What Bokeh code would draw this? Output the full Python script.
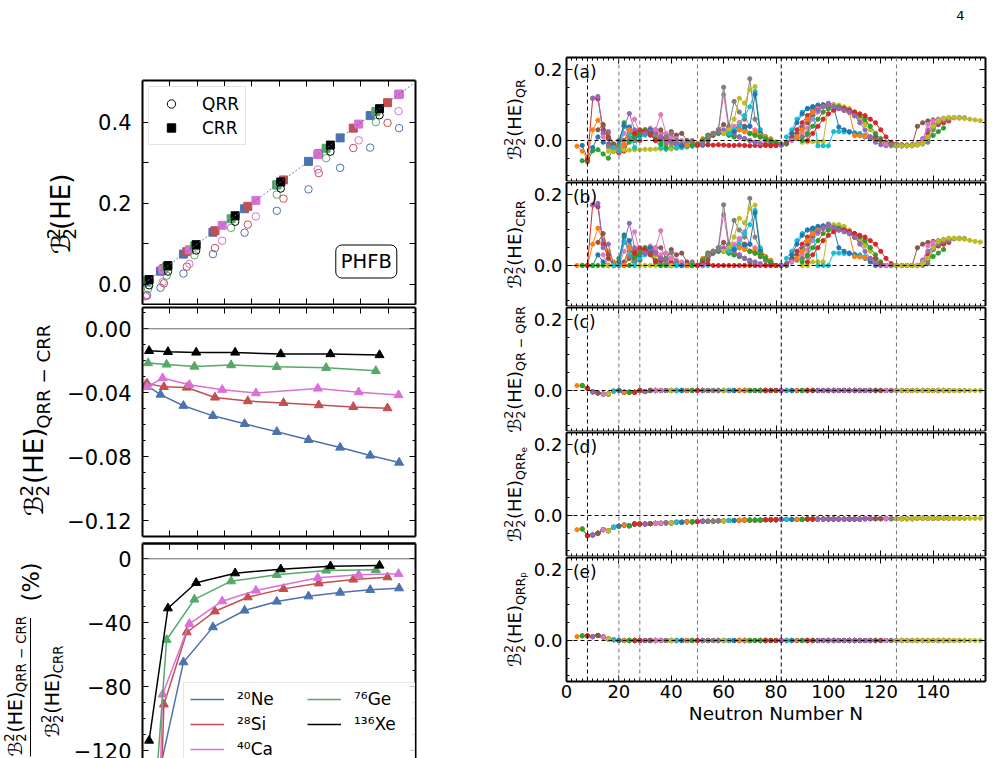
import math
from bokeh.plotting import figure
from bokeh.models import (Range1d, LinearAxis, FixedTicker, CustomJSTickFormatter,
                          Label, Span, Slope, Legend, LegendItem)
from bokeh.layouts import row, column
from bokeh.embed import file_html
from bokeh.resources import INLINE
from bokeh.core.properties import value

FONT = "DejaVu Sans"

# ---------------- left panels: CRR value (x), QRR value, QRR-CRR, relative (%) ----------------
ne_crr = [0.006, 0.033, 0.075, 0.129, 0.187, 0.246, 0.304, 0.362, 0.417, 0.470]
ne_qrr = [-0.029, -0.008, 0.027, 0.075, 0.128, 0.182, 0.235, 0.288, 0.338, 0.386]
ne_diff = [-0.0350, -0.0411, -0.0481, -0.0544, -0.0594, -0.0644, -0.0694, -0.0742, -0.0792, -0.0836]
ne_rel = [-583.0, -130.0, -64.6, -42.7, -32.3, -26.7, -23.4, -21.1, -19.4, -18.4]

si_crr = [0.0084, 0.0392, 0.0811, 0.1327, 0.1929, 0.2582, 0.3228, 0.3861, 0.4488]
si_qrr = [-0.026, 0.003, 0.044, 0.090, 0.148, 0.212, 0.275, 0.337, 0.399]
si_diff = [-0.0342, -0.0363, -0.0367, -0.0429, -0.0452, -0.0463, -0.0477, -0.0488, -0.0496]
si_rel = [-407.0, -91.0, -45.9, -32.8, -24.0, -18.8, -15.3, -12.9, -11.5]

ca_crr = [0.0084, 0.0368, 0.0858, 0.146, 0.2077, 0.321, 0.396, 0.469]
ca_qrr = [-0.028, 0.006, 0.051, 0.108, 0.168, 0.284, 0.356, 0.428]
ca_diff = [-0.0363, -0.0308, -0.0350, -0.0381, -0.0402, -0.0373, -0.0396, -0.0414]
ca_rel = [-432.0, -84.8, -40.6, -26.5, -19.8, -11.9, -10.0, -9.4]

ge_crr = [0.0102, 0.0442, 0.0951, 0.1623, 0.2459, 0.3363, 0.4273]
ge_qrr = [-0.011, 0.022, 0.072, 0.140, 0.222, 0.312, 0.401]
ge_diff = [-0.0214, -0.0223, -0.0236, -0.0227, -0.0238, -0.0244, -0.0263]
ge_rel = [-210.0, -50.6, -25.4, -14.0, -10.0, -7.3, -6.9]

xe_crr = [0.0121, 0.0466, 0.0983, 0.1697, 0.2532, 0.3442, 0.4341]
xe_qrr = [-0.002, 0.032, 0.084, 0.155, 0.237, 0.328, 0.418]
xe_diff = [-0.0138, -0.0144, -0.0148, -0.0148, -0.0158, -0.0158, -0.0164]
xe_rel = [-113.6, -30.9, -15.0, -9.0, -6.5, -4.6, -4.2]

nucleus_labels = ["²⁰Ne", "²⁸Si", "⁴⁰Ca", "⁷⁶Ge", "¹³⁶Xe"]
nucleus_colors = ["#4C72B0", "#C44E52", "#DA70D6", "#55A868", "#000000"]

# ---------------- right panels: isotopic chains vs neutron number ----------------
magic_numbers = [8, 20, 28, 50, 82, 126]
tab10 = ["#1f77b4", "#ff7f0e", "#2ca02c", "#d62728", "#9467bd",
         "#8c564b", "#e377c2", "#7f7f7f", "#bcbd22", "#17becf"]

chain_start = [6, 4, 6, 8, 10, 12, 14, 16, 16, 18,
               20, 22, 24, 26, 30, 32, 34, 38, 40, 42,
               44, 46, 48, 50, 52, 54, 56, 54, 60, 62,
               64, 66, 70, 76, 82, 84, 86, 88, 90, 84,
               86, 88, 90, 92, 96, 118, 122, 124, 126]

qr_vals = [
    [-0.014, -0.05, -0.02, 0.01, -0.005, -0.01, -0.02, -0.03],
    [-0.016, -0.03, -0.05, 0.03, 0.057, 0.04, 0.02, -0.01, -0.025, -0.02],
    [-0.057, -0.06, -0.029, -0.026, -0.038, -0.05, -0.02, -0.01, 0.05, 0.02, 0.0],
    [-0.055, 0.119, 0.117, 0.03, 0.005, -0.03, -0.035, -0.03, 0.0, 0.02, 0.0],
    [0.119, 0.124, 0.02, 0.025, -0.02, -0.03, 0.04, 0.076, 0.03, 0.02, 0.03],
    [0.03, 0.045, 0.01, -0.01, -0.02, 0.0, 0.03, 0.01, 0.025, 0.03, 0.02, 0.0],
    [0.01, -0.02, -0.03, -0.02, 0.02, 0.035, 0.06, 0.02, 0.03, 0.035, 0.03, 0.02],
    [-0.015, -0.03, -0.02, -0.01, 0.01, 0.0, 0.02, 0.025, 0.03, 0.02, 0.0, -0.01],
    [-0.03, -0.03, -0.028, -0.027, -0.027, -0.026, -0.026, -0.025, -0.025, -0.024, -0.024],
    [-0.02, -0.03, 0.04, 0.02, -0.02, 0.01, 0.015, 0.02, 0.0, -0.02, -0.025, -0.022],
    [0.0, 0.043, 0.038, 0.01, 0.015, 0.02, 0.03, 0.02, 0.01, 0.0, -0.01, -0.015],
    [-0.01, 0.03, 0.02, 0.02, 0.025, 0.02, 0.015, 0.01, 0.0, -0.01, -0.015, -0.014],
    [-0.005, 0.01, 0.02, 0.03, 0.02, 0.005, -0.01, -0.02, -0.022, -0.02, -0.018, -0.016, -0.014],
    [0.02, 0.03, 0.025, 0.015, 0.0, 0.005, 0.01, 0.0, -0.01, -0.015, -0.015, -0.014],
    [0.02, 0.025, 0.02, 0.01, 0.0, -0.005, -0.01, -0.012, -0.014, -0.014],
    [0.02, 0.03, 0.03, 0.01, 0.025, 0.015, 0.02, 0.0, -0.005, -0.01],
    [0.03, 0.073, 0.02, 0.01, 0.005, 0.0, -0.01, -0.012, -0.014],
    [0.01, 0.02, 0.0, -0.01, -0.005, 0.0, -0.01, -0.014],
    [-0.024, -0.022, -0.02, -0.018, -0.016, -0.015, -0.014],
    [-0.02, -0.02, -0.018, -0.016, -0.015, -0.014, -0.012],
    [-0.015, -0.014, -0.012, -0.01, 0.0, 0.01, 0.015, 0.02, 0.02, 0.015, 0.01],
    [-0.014, -0.012, -0.01, 0.005, 0.015, 0.02, 0.025, 0.02, 0.02, 0.015, 0.01, 0.005],
    [-0.013, -0.012, 0.0, 0.015, 0.02, 0.02, 0.02, 0.015, 0.012, 0.01, 0.005, 0.0, -0.005],
    [-0.012, -0.011, -0.012, -0.013, -0.012, -0.013, -0.014, -0.014, -0.013, -0.014, -0.015, -0.014, -0.015, -0.014, -0.015, -0.014],
    [-0.01, 0.005, 0.02, 0.025, 0.03, 0.025, 0.02, 0.01, 0.005, 0.0, -0.005, -0.008, -0.01, -0.01, -0.012],
    [0.0, 0.015, 0.03, 0.045, 0.035, 0.025, 0.05, 0.04, 0.02, 0.015, 0.01, 0.005, 0.0, -0.005],
    [0.02, 0.03, 0.129, 0.03, 0.04, 0.05, 0.07, 0.04, 0.03, 0.02, 0.01, 0.0, -0.01, -0.014],
    [0.01, 0.02, 0.03, 0.15, 0.04, 0.11, 0.08, 0.06, 0.174, 0.06, 0.03, 0.0, -0.005, -0.01],
    [0.02, 0.03, 0.06, 0.119, 0.105, 0.143, 0.152, 0.02, 0.005, 0.0, -0.005, -0.01],
    [0.02, 0.03, 0.04, 0.07, 0.095, 0.138, 0.03, 0.01, 0.0, -0.008, -0.012],
    [0.025, 0.03, 0.035, 0.04, 0.13, 0.02, 0.01, 0.0, -0.01, -0.012],
    [0.03, 0.025, 0.02, 0.025, 0.015, 0.01, 0.005, -0.005, -0.01],
    [0.02, 0.015, 0.01, 0.005, 0.0, -0.005, -0.01, -0.01],
    [-0.012, -0.013, -0.014, -0.012, -0.005, 0.01, 0.03, 0.05, 0.07, 0.085, 0.095, 0.1, 0.1, 0.095, 0.09, 0.085, 0.08, 0.07],
    [-0.012, -0.005, 0.0, 0.02, 0.04, 0.06, 0.075, 0.09, 0.1, 0.105, 0.1, 0.095, 0.09, 0.08, 0.07, 0.06],
    [-0.008, 0.005, 0.02, 0.035, 0.05, 0.07, 0.085, 0.095, 0.1, 0.1, 0.095, 0.09, 0.08, 0.07, 0.06, 0.05],
    [0.0, 0.01, 0.02, 0.035, 0.06, 0.08, 0.095, 0.1, 0.1, 0.095, 0.09, 0.08, 0.07, 0.06, 0.05],
    [0.005, 0.01, 0.015, 0.09, 0.095, 0.1, 0.102, 0.1, 0.095, 0.09, 0.08, 0.07, 0.06, 0.05, 0.04],
    [-0.005, -0.004, -0.003, -0.004, -0.003, 0.09, 0.1, 0.1, 0.095, 0.09, 0.08, 0.065, 0.045, 0.03, 0.015],
    [0.01, 0.03, 0.06, 0.08, 0.09, 0.095, -0.015, -0.015, -0.015, 0.025, 0.025, 0.024, 0.023, 0.022, 0.02, 0.015, 0.01],
    [0.02, 0.05, 0.075, 0.09, 0.095, 0.1, 0.1, 0.098, 0.095, 0.038, 0.03, 0.025, 0.02, 0.015, 0.01, 0.005, 0.0],
    [0.01, 0.03, 0.06, 0.08, 0.09, 0.095, 0.098, 0.095, 0.09, 0.085, 0.08, 0.014, 0.013, 0.012, 0.01, 0.005, 0.0],
    [0.0, 0.02, 0.04, 0.06, 0.08, 0.09, 0.095, 0.095, 0.09, 0.085, 0.08, 0.07, 0.06, 0.04, 0.02, 0.005, -0.005, -0.01, -0.012, -0.013,
     -0.013, -0.012, -0.01, -0.005, 0.005, 0.014, 0.025, 0.035],
    [0.0, 0.02, 0.04, 0.06, 0.075, 0.085, 0.09, 0.09, 0.085, 0.08, 0.075, 0.07, 0.06, 0.05, 0.03, 0.01, -0.005, -0.01, -0.012, -0.013,
     -0.013, -0.01, 0.0, 0.02, 0.035, 0.045, 0.05, 0.055],
    [0.085, 0.095, 0.1, 0.095, 0.09, 0.085, 0.08, 0.07, 0.05, 0.03, 0.01, -0.005, -0.012, -0.015, -0.015, -0.015, -0.015, -0.014, -0.012, -0.01,
     0.005, 0.03, 0.045, 0.052, 0.057, 0.06],
    [0.01, 0.0, -0.008, -0.012, -0.015, -0.015, -0.014, -0.012, 0.04, 0.05, 0.055, 0.058, 0.06, 0.062, 0.063],
    [-0.01, -0.013, -0.015, -0.015, -0.015, -0.013, -0.01, 0.0, 0.045, 0.055, 0.06, 0.062, 0.063, 0.064, 0.063],
    [-0.012, -0.015, -0.015, -0.015, -0.015, -0.013, -0.01, -0.005, 0.03, 0.05, 0.058, 0.062, 0.064, 0.065, 0.064],
    [-0.013, -0.015, -0.015, -0.014, -0.012, -0.008, 0.01, 0.04, 0.055, 0.062, 0.065, 0.065, 0.064, 0.062, 0.06, 0.058, 0.056],
]

crr_vals = [
    [0.0, 0.0, 0.0, 0.03, 0.01, 0.0, 0.0, 0.0],
    [0.0, 0.0, 0.0, 0.06, 0.105, 0.07, 0.04, 0.01, 0.0, 0.0],
    [0.0, 0.0, 0.0, 0.0, 0.0, 0.0, 0.0, 0.02, 0.08, 0.04, 0.01],
    [0.0, 0.171, 0.165, 0.06, 0.02, 0.0, 0.0, 0.0, 0.02, 0.04, 0.015],
    [0.17, 0.175, 0.05, 0.06, 0.0, 0.0, 0.065, 0.119, 0.05, 0.035, 0.045],
    [0.065, 0.09, 0.03, 0.0, 0.0, 0.01, 0.05, 0.02, 0.045, 0.05, 0.035, 0.01],
    [0.03, 0.0, 0.0, 0.0, 0.04, 0.06, 0.095, 0.035, 0.05, 0.055, 0.045, 0.03],
    [0.0, 0.0, 0.0, 0.0, 0.025, 0.01, 0.035, 0.04, 0.05, 0.035, 0.01, 0.0],
    [0.0, 0.0, 0.0, 0.0, 0.0, 0.0, 0.0, 0.0, 0.0, 0.0, 0.0],
    [0.0, 0.0, 0.07, 0.035, 0.0, 0.02, 0.03, 0.035, 0.01, 0.0, 0.0, 0.0],
    [0.01, 0.086, 0.07, 0.025, 0.03, 0.035, 0.05, 0.035, 0.02, 0.005, 0.0, 0.0],
    [0.0, 0.05, 0.035, 0.035, 0.045, 0.035, 0.03, 0.02, 0.005, 0.0, 0.0, 0.0],
    [0.0, 0.025, 0.035, 0.05, 0.035, 0.015, 0.0, 0.0, 0.0, 0.0, 0.0, 0.0, 0.0],
    [0.035, 0.05, 0.045, 0.03, 0.01, 0.015, 0.02, 0.01, 0.0, 0.0, 0.0, 0.0],
    [0.035, 0.04, 0.035, 0.02, 0.01, 0.0, 0.0, 0.0, 0.0, 0.0],
    [0.035, 0.05, 0.05, 0.02, 0.045, 0.03, 0.035, 0.01, 0.0, 0.0],
    [0.05, 0.098, 0.035, 0.02, 0.015, 0.01, 0.0, 0.0, 0.0],
    [0.02, 0.035, 0.01, 0.0, 0.0, 0.01, 0.0, 0.0],
    [0.0, 0.0, 0.0, 0.0, 0.0, 0.0, 0.0],
    [0.0, 0.0, 0.0, 0.0, 0.0, 0.0, 0.0],
    [0.0, 0.0, 0.0, 0.0, 0.015, 0.03, 0.035, 0.04, 0.04, 0.035, 0.03],
    [0.0, 0.0, 0.0, 0.02, 0.035, 0.04, 0.045, 0.04, 0.04, 0.035, 0.03, 0.02],
    [0.0, 0.0, 0.015, 0.035, 0.04, 0.04, 0.04, 0.035, 0.03, 0.025, 0.02, 0.01, 0.0],
    [0.0, 0.007, 0.005, 0.0, 0.0, 0.0, 0.0, 0.0, 0.0, 0.0, 0.0, 0.0, 0.0, 0.0, 0.0, 0.0],
    [0.0, 0.02, 0.04, 0.045, 0.05, 0.045, 0.04, 0.03, 0.02, 0.015, 0.01, 0.005, 0.0, 0.0, 0.0],
    [0.015, 0.035, 0.05, 0.065, 0.055, 0.045, 0.075, 0.06, 0.04, 0.035, 0.025, 0.015, 0.005, 0.0],
    [0.04, 0.05, 0.143, 0.05, 0.06, 0.075, 0.095, 0.06, 0.05, 0.04, 0.025, 0.01, 0.0, 0.0],
    [0.03, 0.04, 0.05, 0.171, 0.06, 0.127, 0.1, 0.08, 0.189, 0.08, 0.045, 0.015, 0.0, 0.0],
    [0.04, 0.05, 0.08, 0.133, 0.12, 0.16, 0.17, 0.04, 0.02, 0.01, 0.0, 0.0],
    [0.04, 0.05, 0.06, 0.09, 0.115, 0.155, 0.05, 0.025, 0.01, 0.0, 0.0],
    [0.045, 0.05, 0.055, 0.06, 0.148, 0.04, 0.025, 0.01, 0.0, 0.0],
    [0.05, 0.045, 0.04, 0.045, 0.03, 0.025, 0.015, 0.0, 0.0],
    [0.04, 0.035, 0.03, 0.02, 0.01, 0.0, 0.0, 0.0],
    [0.0, 0.0, 0.0, 0.0, 0.005, 0.02, 0.04, 0.06, 0.08, 0.095, 0.105, 0.11, 0.112, 0.11, 0.105, 0.1, 0.095, 0.085],
    [0.0, 0.005, 0.01, 0.03, 0.05, 0.07, 0.085, 0.1, 0.11, 0.117, 0.112, 0.105, 0.1, 0.09, 0.08, 0.07],
    [0.0, 0.015, 0.03, 0.045, 0.06, 0.08, 0.095, 0.105, 0.11, 0.112, 0.108, 0.1, 0.09, 0.08, 0.07, 0.06],
    [0.01, 0.02, 0.03, 0.045, 0.07, 0.09, 0.105, 0.11, 0.112, 0.108, 0.1, 0.09, 0.08, 0.07, 0.06],
    [0.015, 0.02, 0.025, 0.1, 0.105, 0.11, 0.114, 0.112, 0.107, 0.1, 0.09, 0.08, 0.07, 0.06, 0.05],
    [0.0, 0.0, 0.01, 0.01, 0.01, 0.1, 0.115, 0.115, 0.11, 0.1, 0.09, 0.075, 0.055, 0.04, 0.02],
    [0.02, 0.04, 0.07, 0.09, 0.1, 0.105, 0.0, 0.0, 0.0, 0.035, 0.035, 0.034, 0.033, 0.032, 0.03, 0.025, 0.015],
    [0.03, 0.06, 0.085, 0.1, 0.105, 0.11, 0.112, 0.11, 0.105, 0.05, 0.04, 0.035, 0.03, 0.025, 0.02, 0.01, 0.0],
    [0.02, 0.04, 0.07, 0.09, 0.1, 0.105, 0.108, 0.105, 0.1, 0.095, 0.09, 0.025, 0.024, 0.022, 0.02, 0.01, 0.0],
    [0.01, 0.03, 0.05, 0.07, 0.09, 0.1, 0.105, 0.105, 0.1, 0.095, 0.09, 0.08, 0.07, 0.05, 0.03, 0.01, 0.0, 0.0, 0.0, 0.0,
     0.0, 0.0, 0.0, 0.005, 0.015, 0.025, 0.035, 0.045],
    [0.01, 0.03, 0.05, 0.07, 0.085, 0.095, 0.1, 0.1, 0.095, 0.09, 0.085, 0.08, 0.07, 0.06, 0.04, 0.02, 0.005, 0.0, 0.0, 0.0,
     0.0, 0.0, 0.01, 0.03, 0.045, 0.055, 0.06, 0.065],
    [0.095, 0.105, 0.112, 0.108, 0.1, 0.095, 0.09, 0.08, 0.06, 0.04, 0.02, 0.005, 0.0, 0.0, 0.0, 0.0, 0.0, 0.0, 0.0, 0.0,
     0.015, 0.04, 0.055, 0.062, 0.067, 0.07],
    [0.02, 0.005, 0.0, 0.0, 0.0, 0.0, 0.0, 0.0, 0.05, 0.06, 0.065, 0.068, 0.07, 0.072, 0.073],
    [0.0, 0.0, 0.0, 0.0, 0.0, 0.0, 0.0, 0.01, 0.055, 0.065, 0.07, 0.073, 0.075, 0.076, 0.075],
    [0.0, 0.0, 0.0, 0.0, 0.0, 0.0, 0.0, 0.005, 0.045, 0.06, 0.068, 0.072, 0.075, 0.077, 0.076],
    [0.0, 0.0, 0.0, 0.0, 0.0, 0.005, 0.02, 0.05, 0.068, 0.074, 0.077, 0.077, 0.076, 0.074, 0.071, 0.068, 0.066],
]

# values at N = 4, 6, ..., 158 (read along the overlapping chains)
qr_minus_qrr = [0.014, 0.014, 0.006, -0.004, -0.007, -0.010, -0.010, -0.002, 0.0, -0.005,
                -0.005, -0.005, 0.0, -0.003, 0.0, 0.0, 0.0, 0.0, 0.0, 0.0,
                0.0, 0.0, 0.0, 0.0, 0.0, 0.0, 0.0, 0.0, 0.0, 0.0,
                0.0, 0.0, 0.0, 0.0, 0.0, 0.0, 0.0, 0.0, 0.0, 0.0,
                0.0, 0.0, 0.0, 0.0, 0.0, 0.0, 0.0, 0.0, 0.0, 0.0,
                0.0, 0.0, 0.0, 0.0, 0.0, 0.0, 0.0, 0.0, 0.0, 0.0,
                0.0, 0.0, 0.0, 0.0, 0.0, 0.0, 0.0, 0.0, 0.0, 0.0,
                0.0, 0.0, 0.0, 0.0, 0.0, 0.0, 0.0, 0.0]
qrr_e = [-0.040, -0.038, -0.057, -0.055, -0.050, -0.040, -0.043, -0.033, -0.030, -0.027,
         -0.029, -0.024, -0.024, -0.024, -0.023, -0.022, -0.022, -0.021, -0.021, -0.019,
         -0.019, -0.018, -0.018, -0.017, -0.016, -0.016, -0.016, -0.015, -0.015, -0.014,
         -0.014, -0.014, -0.013, -0.013, -0.013, -0.013, -0.012, -0.012, -0.012, -0.011,
         -0.011, -0.011, -0.011, -0.011, -0.010, -0.010, -0.010, -0.010, -0.010, -0.010,
         -0.010, -0.010, -0.010, -0.010, -0.010, -0.009, -0.009, -0.009, -0.009, -0.009,
         -0.009, -0.009, -0.009, -0.009, -0.009, -0.008, -0.008, -0.008, -0.008, -0.008,
         -0.008, -0.008, -0.008, -0.008, -0.008, -0.008, -0.008, -0.008]
qrr_p = [0.011, 0.013, 0.013, 0.011, 0.014, 0.010, 0.004, 0.002, 0.0, 0.0,
         0.0, 0.0, 0.0, 0.0, 0.0, 0.0, 0.0, 0.0, 0.0, 0.0,
         0.0, 0.0, 0.0, 0.0, 0.0, 0.0, 0.0, 0.0, 0.0, 0.0,
         0.0, 0.0, 0.0, 0.0, 0.0, 0.0, 0.0, 0.0, 0.0, 0.0,
         0.0, 0.0, 0.0, 0.0, 0.0, 0.0, 0.0, 0.0, 0.0, 0.0,
         0.0, 0.0, 0.0, 0.0, 0.0, 0.0, 0.0, 0.0, 0.0, 0.0,
         0.0, 0.0, 0.0, 0.0, 0.0, 0.0, 0.0, 0.0, 0.0, 0.0,
         0.0, 0.0, 0.0, 0.0, 0.0, 0.0, 0.0, 0.0]
profile_N0 = 4

# ---------------- helpers ----------------
W = {"ℬ": 0.78, "2": 0.636, "(": 0.39, ")": 0.39, "H": 0.752, "E": 0.632, "Q": 0.787,
     "R": 0.695, "C": 0.698, "−": 0.838, " ": 0.318, "e": 0.615, "p": 0.635, "%": 0.95}
BASE_FIX = 0.35   # rotated glyph text sits this fraction of its size right of the anchor


def tw(text, size):
    return sum(W.get(ch, 0.6) for ch in text) * size


def make_panel(width, height, box, xr, yr, mb, x_loc="below"):
    p = figure(width=width, height=height, x_range=Range1d(*xr), y_range=Range1d(*yr),
               output_backend="svg", toolbar_location=None,
               x_axis_location=x_loc, y_axis_location="left",
               min_border_left=mb[0], min_border_right=mb[1],
               min_border_top=mb[2], min_border_bottom=mb[3])
    p.outline_line_color = None
    p.xgrid.visible = False
    p.ygrid.visible = False
    p.background_fill_color = "white"
    p.border_fill_color = "white"
    return {"fig": p, "box": box, "xr": xr, "yr": yr}


def text_fig(width, height, x0, y0):
    # a blank strip whose data units are page pixels (y negated), used for the axis titles
    p = figure(width=width, height=height, x_range=Range1d(x0, x0 + width),
               y_range=Range1d(-(y0 + height), -y0), output_backend="svg", toolbar_location=None,
               x_axis_location=None, y_axis_location=None,
               min_border_left=0, min_border_right=0, min_border_top=0, min_border_bottom=0)
    p.outline_line_color = None
    p.grid.visible = False
    p.background_fill_color = "white"
    p.border_fill_color = "white"
    return p


def put_text(p, px, py, text, size, align="left", baseline="middle", angle=0.0):
    p.text(x=[px], y=[-py], text=[text], angle=angle, text_font=value(FONT),
           text_font_size=value(f"{size:.1f}px"), text_align=value(align),
           text_baseline=value(baseline), text_color="black")


def config_axis(ax, ticks, minor, code, size, standoff=6, maj=6, mnr=3):
    ax.ticker = FixedTicker(ticks=ticks, minor_ticks=minor)
    ax.major_tick_in = maj
    ax.major_tick_out = 0
    ax.minor_tick_in = mnr
    ax.minor_tick_out = 0
    ax.major_tick_line_color = "black"
    ax.minor_tick_line_color = "black"
    ax.major_tick_line_width = 1
    ax.minor_tick_line_width = 1
    ax.axis_line_width = 2
    ax.axis_line_color = "black"
    ax.major_label_text_font = FONT
    ax.major_label_text_color = "black"
    if size:
        ax.formatter = CustomJSTickFormatter(code=code)
        ax.major_label_text_font_size = f"{size}px"
        ax.major_label_standoff = standoff
    else:
        ax.formatter = CustomJSTickFormatter(code="return '';")
        ax.major_label_text_font_size = "0px"
        ax.major_label_standoff = 0


def all_axes(pan, xt, xm, yt, ym, ycode, ysize, ystand, xcode=None, xsize=0, xstand=3,
             bottom=True, xmaj=6, xmnr=3, ymaj=6, ymnr=3):
    p = pan["fig"]
    top = LinearAxis()
    right = LinearAxis()
    p.add_layout(top, "above")
    p.add_layout(right, "right")
    if bottom:
        config_axis(p.below[0], xt, xm, xcode, xsize, xstand, xmaj, xmnr)
    for a in p.above:
        config_axis(a, xt, xm, None, 0, 0, xmaj, xmnr)
    config_axis(p.left[0], yt, ym, ycode, ysize, ystand, ymaj, ymnr)
    config_axis(right, yt, ym, None, 0, 0, ymaj, ymnr)


def px2data(pan, px, py):
    l, t, r, b = pan["box"]
    x0, x1 = pan["xr"]
    y0, y1 = pan["yr"]
    return (x0 + (px - l) / (r - l) * (x1 - x0), y1 - (py - t) / (b - t) * (y1 - y0))


def add_label(pan, px, py, text, size, align="left", baseline="middle", **kw):
    x, y = px2data(pan, px, py)
    pan["fig"].add_layout(Label(x=x, y=y, text=text, text_font=FONT,
                                text_font_size=f"{size:.1f}px", text_align=align,
                                text_baseline=baseline, text_color="black", **kw))


def math_pieces(F, sub=None, subsub=None):
    s = 0.7 * F
    pcs = [("ℬ", F, 0.0, tw("ℬ", F)),
           ("2", s, -0.42 * F, 0.0),
           ("2", s, 0.22 * F, tw("2", s) + 0.05 * F),
           ("(HE)", F, 0.0, tw("(HE)", F))]
    if sub:
        pcs.append((sub, s, 0.25 * F, tw(sub, s)))
    if subsub:
        ss = 0.7 * s
        pcs.append((subsub, ss, 0.25 * F + 0.1 * s, tw(subsub, ss)))
    return pcs


def vlabel(p, bx, cy, pcs):
    total = sum(pc[3] for pc in pcs)
    y = cy + total / 2.0
    for text, size, shift, adv in pcs:
        put_text(p, bx + shift - BASE_FIX * size, y, text, size, align="left",
                 baseline="alphabetic", angle=math.pi / 2)
        y -= adv


def fmt(d):
    return "return tick.toFixed(%d).replace('-', '\u2212');" % d


# ---------------- left column ----------------
lx = [0.05, 0.1, 0.15, 0.2, 0.25, 0.3, 0.35, 0.4, 0.45]

LT = make_panel(390, 305, (142, 80, 415, 304), (0.0, 0.5), (-0.0494, 0.5037), (52, 65, 80, 1))
LM = make_panel(420, 234, (142, 307, 415, 536), (0.0, 0.5), (-0.1298, 0.0133), (82, 65, 2, 3))
LB = make_panel(414, 219, (142, 543, 415, 758), (0.0, 0.5), (-124.8, 9.56), (76, 65, 4, 0), x_loc="above")
LLt = text_fig(90, 305, 0, 0)
LLm = text_fig(60, 234, 0, 305)
LLb = text_fig(66, 219, 0, 539)

all_axes(LT, lx, [], [0.0, 0.1, 0.2, 0.3, 0.4], [],
         "return (Math.round(tick*10) % 2 == 0) ? tick.toFixed(1) : '';", 21, 11)
all_axes(LM, lx, [], [-0.12, -0.08, -0.04, 0.0],
         [-0.13, -0.11, -0.1, -0.09, -0.07, -0.06, -0.05, -0.03, -0.02, -0.01, 0.01],
         fmt(2), 21, 11)
all_axes(LB, lx, [], [-120, -80, -40, 0],
         [-110, -100, -90, -70, -60, -50, -30, -20, -10, 10],
         fmt(0), 21, 11, bottom=False)

nuclei = list(zip(nucleus_labels, nucleus_colors,
                  [ne_crr, si_crr, ca_crr, ge_crr, xe_crr],
                  [ne_qrr, si_qrr, ca_qrr, ge_qrr, xe_qrr],
                  [ne_diff, si_diff, ca_diff, ge_diff, xe_diff],
                  [ne_rel, si_rel, ca_rel, ge_rel, xe_rel]))

pt = LT["fig"]
pt.add_layout(Slope(gradient=1, y_intercept=0, line_color="#4C72B0", line_dash="2 2", line_width=0.9))
r_q = r_c = None
for name, col, crr, qrr, diff, rel in nuclei:
    r_q = pt.scatter(crr, qrr, marker="circle", size=7.5, fill_color=None, line_color=col, line_width=1)
    r_c = pt.scatter(crr, crr, marker="square", size=8, fill_color=col, line_color=col)
# the last (black, 136Xe) renderers double as the legend glyphs
leg1 = Legend(items=[LegendItem(label="QRR", renderers=[r_q]), LegendItem(label="CRR", renderers=[r_c])],
              location=(6, 159), padding=6, margin=0, spacing=3, glyph_width=32, glyph_height=21,
              label_height=21, label_standoff=15, label_text_font=FONT, label_text_font_size="17px",
              label_text_color="black",
              border_line_color="#cccccc", border_line_width=1, background_fill_alpha=0.8)
pt.add_layout(leg1)
add_label(LT, 365.8, 261, "PHFB", 19.5, align="center", baseline="middle",
          border_line_color="black", border_line_width=1, background_fill_color="white",
          padding=5, border_radius=6)

pm = LM["fig"]
pm.add_layout(Span(location=0, dimension="width", line_color="#444444", line_width=0.8))
for name, col, crr, qrr, diff, rel in nuclei:
    pm.line(crr, diff, line_color=col, line_width=1.5)
    pm.scatter(crr, diff, marker="triangle", size=9, fill_color=col, line_color=col)

pb = LB["fig"]
pb.add_layout(Span(location=0, dimension="width", line_color="#444444", line_width=0.8))
leg_items = []
for name, col, crr, qrr, diff, rel in nuclei:
    ln = pb.line(crr, rel, line_color=col, line_width=1.5)
    pb.scatter(crr, rel, marker="triangle", size=9, fill_color=col, line_color=col)
    leg_items.append(LegendItem(label=name, renderers=[ln]))
leg2 = Legend(items=leg_items, location=(41, -8), orientation="vertical", nrows=3,
              padding=6, margin=0, spacing=5, glyph_width=34, glyph_height=20, label_height=20,
              label_width=65, label_standoff=13, label_text_font=FONT, label_text_font_size="17px",
              label_text_color="black",
              border_line_color="#cccccc", border_line_width=1, background_fill_alpha=0.8)
pb.add_layout(leg2)

# left axis titles
vlabel(LLt, 70, 192, math_pieces(26))
vlabel(LLm, 43, 421.5, math_pieces(26, "QRR − CRR"))
vlabel(LLb, 21, 685, math_pieces(19, "QRR − CRR"))
vlabel(LLb, 58, 690, math_pieces(19, "CRR"))
vlabel(LLb, 38, 578.5, [("(%)", 22.5, 0.0, tw("(%)", 22.5))])
LLb.line(x=[30, 30], y=[-615, -756], line_color="black", line_width=1)

# ---------------- right column ----------------
RW = 466
rxt = [0, 20, 40, 60, 80, 100, 120, 140]
rxm = [n for n in range(2, 160, 2) if n % 20 != 0]
ryt = [0.0, 0.2]
rym = [-0.1, -0.05, 0.05, 0.1, 0.15]
yr = (-0.1155, 0.2338)

RT = text_fig(RW, 56, 530, 0)
RA = make_panel(RW, 125, (565, 57, 985, 181), (0, 160), yr, (35, 11, 1, 0))
RB = make_panel(RW, 125, (565, 182, 985, 306), (0, 160), yr, (35, 11, 1, 0))
RC = make_panel(RW, 125, (565, 307, 985, 431), (0, 160), yr, (35, 11, 1, 0))
RD = make_panel(RW, 125, (565, 432, 985, 556), (0, 160), yr, (35, 11, 1, 0))
RE = make_panel(RW, 202, (565, 557, 985, 681), (0, 160), yr, (35, 11, 1, 77))
RL = text_fig(50, 758, 480, 0)
right_panels = [RA, RB, RC, RD, RE]

for i, pan in enumerate(right_panels):
    last = i == 4
    all_axes(pan, rxt, rxm, ryt, rym, fmt(1), 18, 4,
             xcode=fmt(0) if last else None, xsize=18 if last else 0, xstand=3,
             xmaj=6, xmnr=3, ymaj=6, ymnr=3)
    p = pan["fig"]
    for n in magic_numbers:
        dark = n in (8, 82)
        p.add_layout(Span(location=n, dimension="height",
                          line_color="#000000" if dark else "#777777",
                          line_dash="4 3", line_width=1))
    p.add_layout(Span(location=0, dimension="width", line_color="black", line_dash="4 3", line_width=1))

xb = RE["fig"].below[0]
xb.axis_label = "Neutron Number N"
xb.axis_label_text_font = FONT
xb.axis_label_text_font_size = "18.5px"
xb.axis_label_text_font_style = "normal"
xb.axis_label_text_color = "black"
xb.axis_label_standoff = 2


def draw_chain(pan, Ns, vals, col):
    p = pan["fig"]
    p.line(Ns, vals, line_color=col, line_width=1)
    p.scatter(Ns, vals, marker="circle", size=4.2, fill_color=col, line_color=col)


for k, s in enumerate(chain_start):
    col = tab10[k % 10]
    a = qr_vals[k]
    b = crr_vals[k]
    Na = [s + 2 * i for i in range(len(a))]
    Nb = [s + 2 * i for i in range(len(b))]
    draw_chain(RA, Na, a, col)
    draw_chain(RB, Nb, b, col)
    for pan, prof in ((RC, qr_minus_qrr), (RD, qrr_e), (RE, qrr_p)):
        draw_chain(pan, Na, [prof[(n - profile_N0) // 2] for n in Na], col)

panel_tags = ["(a)", "(b)", "(c)", "(d)", "(e)"]
subs = [("QR", None), ("CRR", None), ("QR − QRR", None), ("QRR", "e"), ("QRR", "p")]
for pan, tag, (sb, ssb) in zip(right_panels, panel_tags, subs):
    l, t, r, b = pan["box"]
    add_label(pan, 571.5, t + 14.5, tag, 17, align="left", baseline="middle")
    vlabel(RL, 520, (t + b) / 2.0, math_pieces(18, sb, ssb))

put_text(RT, 968, 15, "4", 13, align="center", baseline="middle")

left = column(row(LLt, LT["fig"]), row(LLm, LM["fig"]), row(LLb, LB["fig"]))
right = row(RL, column(RT, RA["fig"], RB["fig"], RC["fig"], RD["fig"], RE["fig"]))
layout = row(left, right)

open("out.html", "w").write(file_html(layout, INLINE, title="chart"))
